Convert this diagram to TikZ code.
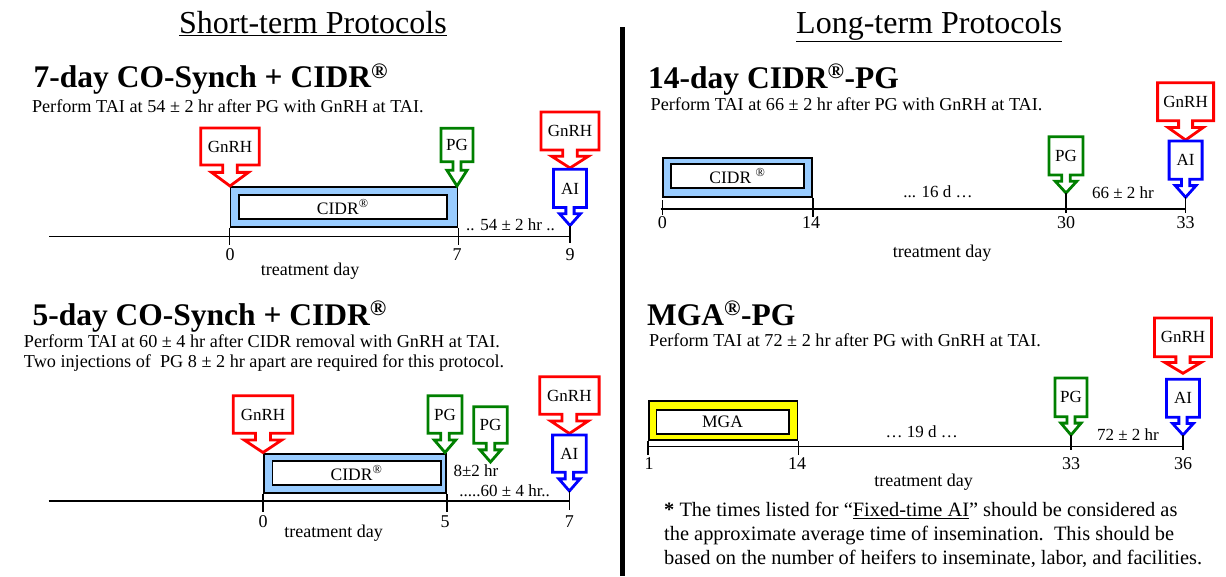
\documentclass[tikz,border=0pt]{standalone}
\usepackage{fontspec}
\setmainfont{Liberation Serif}
\newcommand\fs[1]{\fontsize{#1}{#1}\selectfont}
\definecolor{cred}{RGB}{255,0,0}
\definecolor{cgreen}{RGB}{0,128,0}
\definecolor{cblue}{RGB}{0,0,255}
\definecolor{cidrblue}{RGB}{153,204,255}
\definecolor{myellow}{RGB}{255,255,0}
\tikzset{
 lbl/.style={inner sep=0pt, font=\fs{17}},
 daytxt/.style={inner sep=0pt, font=\fs{18}},
 callline/.style={line width=2.8pt, fill=white, line join=miter},
 tline/.style={line width=1.5pt},
 outerbox/.style={draw=black, line width=1.8pt, inner sep=0pt, anchor=north west},
 innerbox/.style={draw=black, fill=white, line width=1.8pt, inner sep=0pt, anchor=north west, font=\fs{17.5}},
 headtxt/.style={anchor=base west, inner sep=0pt, font=\bfseries\fs{31.5}},
 toptxt/.style={anchor=base west, inner sep=0pt, font=\fs{32}},
 subtxt/.style={anchor=base west, inner sep=0pt, font=\fs{18.2}},
 foottxt/.style={anchor=base west, inner sep=0pt, font=\fs{20.4}},
}
% name, colour, text, cx, top, half width, box bottom, tip y
\newcommand\callout[8]{%
 \pgfmathsetmacro\coS{0.25*#6}%
 \pgfmathsetmacro\coH{0.63*#6}%
 \pgfmathsetmacro\coM{#7+0.35*(#8-#7)}%
 \pgfmathsetmacro\coY{(#5+#7)/2}%
 \draw[callline,draw=#2] (#4-#6,#5) -- (#4+#6,#5) -- (#4+#6,#7) -- (#4+\coS,#7) -- (#4+\coS,\coM) -- (#4+\coH,\coM) -- (#4,#8) -- (#4-\coH,\coM) -- (#4-\coS,\coM) -- (#4-\coS,#7) -- (#4-#6,#7) -- cycle;
 \node[lbl] (#1) at (#4,\coY) {#3};
 \coordinate (#1-tip) at (#4,#8);%
}
\begin{document}
\begin{tikzpicture}[x=1pt,y=-1pt]
\useasboundingbox (0,0) rectangle (1226,576);
\fill[white] (0,0) rectangle (1226,576);

% titles and divider
\node[toptxt] (tshort) at (179,33) {\underline{Short-term Protocols}};
\node[toptxt] (tlong) at (796,33) {\underline{Long-term Protocols}};
\coordinate (dvt) at (622.5,27);
\coordinate (dvb) at (622.5,576);
\draw[line width=5pt] (dvt) -- (dvb);

% ================= 7-day =================
\node[headtxt] (h1) at (33.5,87.5) {7-day CO-Synch + CIDR\textsuperscript{®}};
\node[subtxt] (s1) at (31.8,112.3) {Perform TAI at 54 ± 2 hr after PG with GnRH at TAI.};
\node[outerbox, fill=cidrblue, minimum width=227pt, minimum height=40pt] (cidr1) at (229.5,186) {};
\node[innerbox, minimum width=208.3pt, minimum height=23.4pt] (cidr1in) at (237.7,194.3) {CIDR\textsuperscript{®}};
\callout{g1}{cred}{GnRH}{230}{128}{29.3}{165}{186}
\callout{p1}{cgreen}{PG}{457}{128.3}{16}{161.7}{186}
\callout{g2}{cred}{GnRH}{570}{112}{29}{150}{168}
\callout{a1}{cblue}{AI}{570}{169.3}{16.5}{207.5}{225.5}
\coordinate (L1s) at (49,236.5);
\coordinate (L1e) at (570,236.5);
\draw[tline] (L1s) -- (L1e);
\draw[tline] (cidr1.south west) -- ++(0,17);
\draw[tline] (cidr1.south east) -- ++(0,17);
\coordinate (k1c) at (570,243);
\draw[tline] (a1-tip) -- (k1c);
\node[daytxt] (n1a) at (230,255) {0};
\node[daytxt] (n1b) at (457,255) {7};
\node[daytxt] (n1c) at (570,255) {9};
\node[lbl, anchor=base] (d1) at (510.5,230) {.. 54 ± 2 hr ..};
\node[daytxt] (td1) at (310,270.7) {treatment day};

% ================= 5-day =================
\node[headtxt] (h2) at (32.4,325) {5-day CO-Synch + CIDR\textsuperscript{®}};
\node[subtxt] (s2a) at (23.7,347.7) {Perform TAI at 60 ± 4 hr after CIDR removal with GnRH at TAI.};
\node[subtxt] (s2b) at (23.7,367) {Two injections of \ PG 8 ± 2 hr apart are required for this protocol.};
\node[outerbox, fill=cidrblue, minimum width=182pt, minimum height=39.6pt] (cidr2) at (263,452.7) {};
\node[innerbox, minimum width=168.1pt, minimum height=23.4pt] (cidr2in) at (271.6,460.3) {CIDR\textsuperscript{®}};
\callout{g3}{cred}{GnRH}{263}{395.7}{29.8}{433.3}{452.5}
\callout{p2}{cgreen}{PG}{445}{395.7}{17}{433.3}{452.5}
\callout{p3}{cgreen}{PG}{490.5}{406.7}{16.8}{443.3}{462}
\callout{g4}{cred}{GnRH}{569.4}{376.7}{29.7}{414.3}{433.5}
\callout{a2}{cblue}{AI}{569.4}{435}{16.8}{472.3}{491}
\coordinate (L2s) at (48.6,501);
\coordinate (L2e) at (569.4,501);
\draw[tline] (L2s) -- (L2e);
\draw[tline] (cidr2.south west) -- ++(0,17.5);
\draw[tline] (cidr2.south east) -- ++(0,17.5);
\coordinate (k2c) at (569.4,510);
\draw[tline] (a2-tip) -- (k2c);
\node[daytxt] (n2a) at (263,521.7) {0};
\node[daytxt] (n2b) at (445,521.7) {5};
\node[daytxt] (n2c) at (569.4,521.7) {7};
\node[lbl, anchor=base] (d2a) at (476,476.7) {8±2 hr};
\node[lbl, anchor=base] (d2b) at (504.7,496.7) {.....60 ± 4 hr..};
\node[daytxt] (td2) at (333.5,533) {treatment day};

% ================= 14-day =================
\node[headtxt] (h3) at (648,88) {14-day CIDR\textsuperscript{®}-PG};
\node[subtxt] (s3) at (650.5,110) {Perform TAI at 66 ± 2 hr after PG with GnRH at TAI.};
\node[outerbox, fill=cidrblue, minimum width=149.3pt, minimum height=39.3pt] (cidr3) at (661.7,156.7) {};
\node[innerbox, minimum width=133pt, minimum height=23.4pt] (cidr3in) at (670,163.3) {CIDR \textsuperscript{®}};
\callout{p4}{cgreen}{PG}{1066}{136.7}{17}{175}{193}
\callout{g5}{cred}{GnRH}{1185.6}{82.7}{28}{120.7}{140}
\callout{a3}{cblue}{AI}{1185.6}{141}{16.5}{179.3}{197.3}
\coordinate (L3s) at (660.5,209);
\coordinate (L3e) at (1185.6,209);
\draw[tline] (L3s) -- (L3e);
\coordinate (k3a) at (662.4,200);
\draw[tline] (k3a) -- ++(0,15);
\draw[tline] (cidr3.south east) -- ++(0,19);
\coordinate (k3c) at (1066,212.5);
\coordinate (k3d) at (1185.6,212.5);
\draw[tline] (p4-tip) -- (k3c);
\draw[tline] (a3-tip) -- (k3d);
\node[daytxt] (n3a) at (662.4,223) {0};
\node[daytxt] (n3b) at (811,223) {14};
\node[daytxt] (n3c) at (1066,223) {30};
\node[daytxt] (n3d) at (1185.6,223) {33};
\node[lbl] (d3a) at (938,191.7) {... 16 d …};
\node[lbl] (d3b) at (1123,192.7) {66 ± 2 hr};
\node[daytxt] (td3) at (942,253) {treatment day};

% ================= MGA =================
\node[headtxt] (h4) at (647,325) {MGA\textsuperscript{®}-PG};
\node[subtxt] (s4) at (649,346.7) {Perform TAI at 72 ± 2 hr after PG with GnRH at TAI.};
\node[outerbox, fill=myellow, minimum width=148.5pt, minimum height=39.3pt] (mga) at (648,400) {};
\node[innerbox, minimum width=132.2pt, minimum height=23.7pt] (mgain) at (655.5,409) {MGA};
\callout{p5}{cgreen}{PG}{1071}{378}{16}{416.7}{435}
\callout{g6}{cred}{GnRH}{1183}{318}{28.5}{356.7}{373.3}
\callout{a4}{cblue}{AI}{1183}{379.3}{16.5}{417.3}{435}
\coordinate (L4s) at (647,446.7);
\coordinate (L4e) at (1183,446.7);
\draw[tline] (L4s) -- (L4e);
\draw[tline] (mga.south west) -- ++(0,14);
\draw[tline] (mga.south east) -- ++(0,14);
\coordinate (k4c) at (1071,450);
\coordinate (k4d) at (1183,450);
\draw[tline] (p5-tip) -- (k4c);
\draw[tline] (a4-tip) -- (k4d);
\node[daytxt] (n4a) at (649,463.3) {1};
\node[daytxt] (n4b) at (797,463.3) {14};
\node[daytxt] (n4c) at (1071,463.3) {33};
\node[daytxt] (n4d) at (1183,463.3) {36};
\node[lbl] (d4a) at (921.7,431.7) {… 19 d …};
\node[lbl] (d4b) at (1128,435) {72 ± 2 hr};
\node[daytxt] (td4) at (923.5,481.7) {treatment day};

% footnote
\node[foottxt] (f1) at (664,516.7) {\textbf{*} The times listed for “\underline{Fixed-time AI}” should be considered as};
\node[foottxt] (f2) at (664,540.7) {the approximate average time of insemination.\ \ This should be};
\node[foottxt] (f3) at (664,564) {based on the number of heifers to inseminate, labor, and facilities.};
\end{tikzpicture}
\end{document}
